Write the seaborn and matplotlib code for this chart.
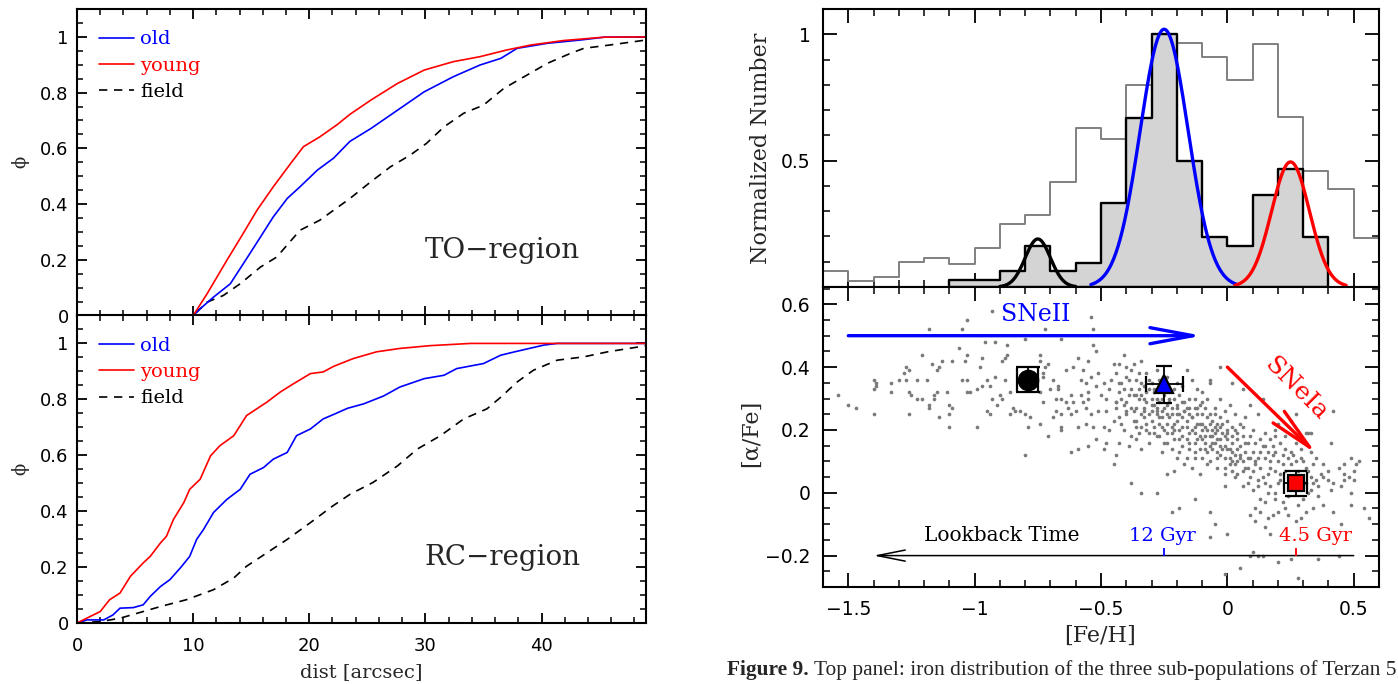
import numpy as np
import pandas as pd
import matplotlib
matplotlib.use("Agg")
import matplotlib.pyplot as plt
from matplotlib.ticker import MultipleLocator, FuncFormatter
from matplotlib.lines import Line2D
import seaborn as sns

# ---------------------------------------------------------------- data
# cumulative radial distributions, TO-region
to_old_x = [0, 10.0, 10.6, 11.75, 13.2, 14.6, 15.8, 16.9, 18.1, 19.2, 20.7, 22.1, 23.5, 25.3,
            27.6, 29.9, 32.4, 34.7, 36.5, 37.9, 40.5, 43.4, 45.4, 49]
to_old_y = [0, 0, 0.024, 0.066, 0.114, 0.204, 0.282, 0.354, 0.42, 0.462, 0.522, 0.565, 0.625, 0.671,
            0.737, 0.803, 0.857, 0.899, 0.923, 0.959, 0.977, 0.989, 0.999, 1.0]
to_young_x = [0, 10.0, 11.2, 12.9, 14.3, 15.5, 16.9, 18.4, 19.5, 20.9, 22.4, 23.5, 25.3, 27.6,
              29.9, 32.4, 34.7, 37.0, 39.1, 41.9, 45.4, 49]
to_young_y = [0, 0, 0.078, 0.198, 0.294, 0.378, 0.462, 0.546, 0.606, 0.641, 0.685, 0.722, 0.773, 0.833,
              0.881, 0.911, 0.929, 0.953, 0.971, 0.987, 0.999, 1.0]
to_field_x = [0, 10.0, 11.2, 12.6, 14.05, 15.8, 17.2, 19.2, 20.9, 23.5, 25.3, 27.0, 28.7, 30.1,
              31.6, 33.3, 35.0, 36.75, 38.5, 40.5, 42.5, 43.65, 45.9, 49.05]
to_field_y = [0, 0, 0.048, 0.072, 0.114, 0.174, 0.21, 0.306, 0.342, 0.42, 0.48, 0.534, 0.576, 0.618,
              0.677, 0.726, 0.755, 0.815, 0.857, 0.905, 0.941, 0.959, 0.971, 0.989]

# cumulative radial distributions, RC-region
rc_old_x = [0, 0.83, 2.3, 3.1, 3.7, 4.85, 5.7, 6.3, 7.2, 8.0, 8.9, 9.7, 10.3, 10.9, 11.75, 12.9,
            14.05, 14.9, 16.06, 16.9, 18.1, 18.9, 20.1, 21.2, 22.1, 23.3, 24.7, 26.4, 27.8, 29.9,
            31.6, 32.7, 35.0, 36.5, 37.9, 40.2, 41.35, 49]
rc_old_y = [0, 0.011, 0.011, 0.029, 0.053, 0.055, 0.065, 0.095, 0.131, 0.155, 0.197, 0.238, 0.299,
            0.335, 0.395, 0.442, 0.478, 0.532, 0.556, 0.586, 0.61, 0.67, 0.694, 0.73, 0.746, 0.768,
            0.784, 0.812, 0.844, 0.874, 0.886, 0.91, 0.928, 0.958, 0.972, 0.994, 1.0, 1.0]
rc_young_x = [0, 2.0, 2.8, 3.7, 4.6, 5.7, 6.3, 7.2, 7.7, 8.3, 9.2, 9.7, 10.6, 11.5, 12.3, 13.5,
              14.6, 16.35, 17.5, 18.65, 20.1, 21.2, 22.1, 23.8, 25.8, 27.8, 30.4, 33.9, 49]
rc_young_y = [0, 0.041, 0.083, 0.107, 0.167, 0.215, 0.238, 0.287, 0.31, 0.37, 0.431, 0.478, 0.514,
              0.598, 0.634, 0.67, 0.742, 0.79, 0.826, 0.856, 0.892, 0.898, 0.918, 0.946, 0.97,
              0.982, 0.992, 1.0, 1.0]
rc_field_x = [0, 2.0, 3.7, 5.2, 7.2, 9.4, 11.75, 13.5, 14.6, 16.35, 18.1, 20.1, 22.0, 23.5, 25.5,
              27.6, 29.3, 31.3, 33.3, 35.3, 36.5, 37.9, 39.3, 41.35, 43.65, 45.7, 49.05]
rc_field_y = [0, 0.005, 0.017, 0.035, 0.059, 0.083, 0.119, 0.161, 0.203, 0.251, 0.299, 0.359, 0.418,
              0.46, 0.503, 0.562, 0.622, 0.67, 0.73, 0.766, 0.808, 0.862, 0.904, 0.94, 0.952,
              0.97, 0.992]

# [Fe/H] histograms (normalised), bins of 0.1 dex
bulge_hist_lo, bulge_hist_hi = -1.6, 0.6
bulge_hist = [0.062, 0.025, 0.038, 0.10, 0.114, 0.09, 0.156, 0.25, 0.285, 0.416, 0.629,
              0.587, 0.80, 1.0, 0.967, 0.912, 0.819, 0.960, 0.672, 0.458, 0.386, 0.193]
ter5_hist_lo, ter5_hist_hi = -1.1, 0.4
ter5_hist = [0.029, 0.029, 0.064, 0.164, 0.064, 0.094, 0.332, 0.669, 1.0, 0.5, 0.198,
             0.163, 0.366, 0.466, 0.198]

# gaussian components: mean, sigma, peak, half-range drawn
gauss_mu = [-0.75, -0.25, 0.25]
gauss_sigma = [0.05, 0.095, 0.075]
gauss_peak = [0.19, 1.02, 0.495]
gauss_span = [0.15, 0.29, 0.22]
gauss_colors = ["black", "blue", "red"]

# field stars [Fe/H] vs [alpha/Fe]
field_feh = [
    -1.54, -1.50, -1.47, -1.40, -1.40, -1.39, -1.39, -1.40, -1.33, -1.33, -1.30, -1.28, -1.27, -1.26,
    -1.27, -1.26, -1.25, -1.26, -1.23, -1.23, -1.21, -1.21, -1.19, -1.18, -1.18, -1.18, -1.17, -1.16,
    -1.16, -1.15, -1.15, -1.14, -1.14, -1.13, -1.11, -1.10, -1.09, -1.10, -1.10, -1.09, -1.06, -1.05,
    -1.05, -1.04, -1.03, -1.03, -1.03, -1.03, -1.02,
    -0.93, -0.72, -0.66, -0.54, -0.53, -0.53, -0.52, -0.96, -0.92, -0.87, -0.80, -0.97, -0.87, -0.89,
    -0.88, -0.98, -0.92, -0.95, -0.97, -0.99, -0.94, -0.93, -0.90, -0.89, -0.91, -0.88, -0.86, -0.85,
    -0.84, -0.86, -0.95, -0.94, -0.99, -0.82, -0.80, -0.78, -0.79, -0.80, -0.74, -0.74, -0.72, -0.71,
    -0.73, -0.73, -0.74, -0.73, -0.74, -0.71, -0.70, -0.69, -0.68, -0.67, -0.67, -0.66, -0.68, -0.66,
    -0.69, -0.66, -0.66, -0.64, -0.64, -0.63, -0.62, -0.62, -0.61, -0.61, -0.60, -0.59, -0.59, -0.58,
    -0.58, -0.57, -0.57, -0.56, -0.56, -0.56, -0.55, -0.55, -0.55, -0.54, -0.54, -0.53, -0.52, -0.51,
    -0.51, -0.50, -0.49, -0.49, -0.48, -0.48, -0.47, -0.47, -0.46, -0.45, -0.45, -0.44, -0.44, -0.45,
    -0.49, -0.52, -0.55, -0.59, -0.62, -0.48,
    -0.41, -0.43, -0.34, -0.38, -0.40, -0.43, -0.42, -0.44, -0.40, -0.38, -0.40, -0.43, -0.41, -0.38,
    -0.39, -0.43, -0.36, -0.37, -0.35, -0.33, -0.32, -0.30, -0.32, -0.34, -0.29, -0.28, -0.28, -0.26,
    -0.25, -0.24, -0.27, -0.24, -0.22, -0.21, -0.20, -0.18, -0.17, -0.16, -0.15, -0.14, -0.13, -0.12,
    -0.11, -0.10, -0.09, -0.08, -0.07, -0.06, -0.05, -0.04, -0.03, -0.01, 0.00, 0.02, 0.02, 0.03,
    0.05, 0.06, 0.07, 0.07, 0.03, 0.05, 0.00, -0.05, -0.08, -0.10, -0.10, -0.13, -0.14, -0.12,
    -0.15, -0.18, -0.20, -0.21, -0.23, -0.25, -0.26, -0.29, -0.30, -0.32, -0.34, -0.18, -0.16, -0.07,
    -0.07, -0.03, -0.03, -0.01, 0.01, 0.03, 0.06, 0.07, 0.06, -0.03, -0.06, -0.04, -0.08, -0.13,
    -0.17, -0.21, -0.24, -0.28, -0.34, -0.38, -0.22, -0.19, -0.13, -0.07, -0.01, -0.05, 0.00, -0.07,
    0.05,
    -0.35, -0.33, -0.31, -0.29, -0.27, -0.25, -0.24, -0.22, -0.21, -0.19, -0.18, -0.16, -0.15, -0.13,
    -0.12, -0.10, -0.09, -0.07, -0.06, -0.04, -0.03, -0.01, 0.02, 0.03, 0.05, 0.06, -0.38, -0.36,
    -0.32, -0.30, -0.28, -0.26, -0.23, -0.20, -0.17, -0.14, -0.11, -0.08, -0.05, -0.02, 0.00, 0.02,
    0.04, -0.40, -0.37, -0.34, -0.31, -0.28, -0.25, -0.22, -0.19, -0.16, -0.13, -0.10, -0.07, -0.04,
    -0.01, -0.42, -0.39, -0.36, -0.33, -0.30, -0.27, -0.24, -0.21, -0.18, -0.15, -0.12, -0.09, -0.06,
    -0.03, 0.00, 0.01, 0.04, -0.44, -0.37, -0.31, -0.27, -0.23, -0.19, -0.15, -0.11, -0.09, -0.05,
    -0.02, 0.01, 0.04, -0.35, -0.31, -0.26, -0.20, -0.14, -0.11, -0.20, -0.24, -0.28, -0.34, -0.41,
    -0.36,
    0.12, 0.42, 0.33, 0.41, 0.52, 0.51, 0.50, 0.48, 0.46, 0.45, 0.42, 0.41, 0.40, 0.38, 0.37, 0.35,
    0.34, 0.33, 0.33, 0.36, 0.49, 0.50, 0.54, 0.56, 0.49, 0.45, 0.44, 0.42, 0.38, 0.34, 0.31, 0.29,
    0.27, 0.24, 0.23, 0.20, 0.18, 0.16, 0.13, 0.11, 0.09, 0.11, 0.15, 0.17, 0.09, 0.12, 0.20, 0.28,
    0.30, 0.32, 0.31, 0.22, 0.19, 0.16, 0.13, 0.10, 0.08, 0.09, 0.12, 0.15, 0.17, 0.20, 0.21, 0.19,
    0.16, 0.13, 0.11, 0.08, 0.09, 0.11, 0.15, 0.17, 0.20, 0.22, 0.24, 0.27, 0.30, 0.31, 0.10, 0.13,
    0.16, 0.19, 0.23, 0.25, 0.29, 0.08, 0.11, 0.15, 0.17, 0.21, 0.27, 0.09, 0.13, 0.19, 0.23, 0.31,
    0.10, 0.15, 0.19, 0.32, 0.33, 0.35, 0.38, 0.40, 0.44, 0.46, 0.49, 0.46, 0.27, 0.25, 0.20,
    -0.01, 0.10, 0.14, 0.25, 0.36, 0.06, 0.09, 0.14, 0.02,
]
field_afe = [
    0.31, 0.28, 0.27, 0.36, 0.33, 0.35, 0.34, 0.25, 0.35, 0.32, 0.36, 0.38, 0.40, 0.39,
    0.36, 0.32, 0.31, 0.25, 0.36, 0.30, 0.44, 0.30, 0.36, 0.52, 0.28, 0.27, 0.41, 0.31,
    0.30, 0.39, 0.32, 0.40, 0.24, 0.42, 0.32, 0.28, 0.27, 0.25, 0.21, 0.42, 0.46, 0.52,
    0.36, 0.42, 0.55, 0.44, 0.36, 0.32, 0.32,
    0.58, 0.52, 0.49, 0.56, 0.52, 0.47, 0.45, 0.48, 0.48, 0.47, 0.49, 0.43, 0.44, 0.42,
    0.43, 0.40, 0.37, 0.36, 0.34, 0.33, 0.34, 0.30, 0.31, 0.30, 0.28, 0.36, 0.32, 0.27,
    0.26, 0.25, 0.26, 0.25, 0.21, 0.26, 0.25, 0.24, 0.21, 0.12, 0.44, 0.42, 0.40, 0.41,
    0.38, 0.37, 0.32, 0.29, 0.22, 0.18, 0.33, 0.36, 0.30, 0.34, 0.33, 0.30, 0.26, 0.25,
    0.24, 0.21, 0.20, 0.39, 0.29, 0.27, 0.31, 0.25, 0.40, 0.29, 0.26, 0.43, 0.21, 0.36,
    0.31, 0.39, 0.29, 0.35, 0.27, 0.22, 0.42, 0.32, 0.30, 0.37, 0.25, 0.21, 0.34, 0.38,
    0.26, 0.31, 0.35, 0.21, 0.30, 0.26, 0.33, 0.20, 0.36, 0.41, 0.23, 0.29, 0.12, 0.09,
    0.14, 0.17, 0.15, 0.14, 0.13, 0.16,
    0.44, 0.41, 0.42, 0.39, 0.37, 0.32, 0.30, 0.29, 0.29, 0.27, 0.25, 0.24, 0.20, 0.18,
    0.15, 0.16, 0.23, 0.31, 0.33, 0.26, 0.29, 0.23, 0.20, 0.14, 0.21, 0.25, 0.27, 0.24,
    0.20, 0.22, 0.18, 0.16, 0.25, 0.20, 0.23, 0.18, 0.26, 0.21, 0.16, 0.24, 0.19, 0.27,
    0.14, 0.22, 0.18, 0.13, 0.25, 0.20, 0.16, 0.11, 0.21, 0.08, 0.14, 0.18, 0.10, 0.05,
    0.12, 0.02, 0.08, 0.16, 0.20, 0.22, 0.23, 0.27, 0.30, 0.32, 0.29, 0.30, 0.36, 0.33,
    0.27, 0.29, 0.27, 0.30, 0.29, 0.27, 0.30, 0.32, 0.35, 0.38, 0.35, 0.34, 0.39, 0.35,
    0.36, 0.40, 0.30, 0.26, 0.28, 0.25, 0.21, 0.24, 0.18, 0.17, 0.18, 0.13, 0.09, 0.11,
    0.09, 0.07, 0.06, 0.00, 0.00, 0.03, -0.06, -0.05, -0.02, -0.06, 0.02, -0.10, -0.13, -0.14,
    -0.24,
    0.30, 0.27, 0.25, 0.33, 0.29, 0.31, 0.25, 0.27, 0.22, 0.25, 0.21, 0.23, 0.19, 0.21,
    0.17, 0.20, 0.16, 0.18, 0.14, 0.17, 0.12, 0.15, 0.13, 0.09, 0.11, 0.07, 0.33, 0.36,
    0.32, 0.28, 0.26, 0.33, 0.30, 0.28, 0.26, 0.24, 0.22, 0.24, 0.21, 0.19, 0.17, 0.16,
    0.14, 0.26, 0.23, 0.21, 0.19, 0.18, 0.16, 0.14, 0.13, 0.11, 0.13, 0.11, 0.10, 0.08,
    0.06, 0.35, 0.31, 0.27, 0.24, 0.30, 0.22, 0.19, 0.17, 0.15, 0.14, 0.25, 0.27, 0.23,
    0.24, 0.20, 0.11, 0.17, 0.38, 0.41, 0.33, 0.36, 0.33, 0.31, 0.30, 0.28, 0.21, 0.19,
    0.14, 0.09, 0.06, 0.19, 0.16, 0.13, 0.11, 0.08, 0.06, 0.35, 0.37, 0.39, 0.31, 0.33,
    0.17,
    0.25, 0.26, 0.19, 0.16, 0.10, 0.09, 0.07, 0.05, 0.04, 0.02, 0.03, 0.01, 0.04, 0.05, 0.06, 0.04,
    0.03, 0.01, 0.05, 0.02, 0.00, 0.04, -0.05, -0.08, -0.04, -0.10, -0.20, -0.06, -0.04, -0.05, -0.06, -0.08,
    -0.09, -0.07, -0.05, -0.06, -0.07, -0.08, -0.06, -0.05, -0.07, -0.09, -0.11, -0.13, -0.20, -0.20, -0.22, -0.27,
    -0.02, 0.00, 0.03, -0.03, -0.02, 0.00, -0.02, 0.01, 0.03, 0.05, 0.04, 0.03, 0.02, 0.03, 0.06, 0.07,
    0.06, 0.08, 0.09, 0.08, 0.11, 0.10, 0.11, 0.10, 0.10, 0.09, 0.11, 0.10, 0.10, 0.08, 0.13, 0.13,
    0.13, 0.13, 0.14, 0.13, 0.14, 0.16, 0.16, 0.15, 0.17, 0.16, 0.16, 0.18, 0.17, 0.18, 0.18, 0.19,
    0.20, 0.19, 0.20, 0.19, 0.13, 0.11, 0.09, 0.07, 0.08, 0.09, 0.11, 0.06, 0.25, 0.23, 0.22,
    -0.26, -0.19, -0.20, -0.21, -0.21, 0.33, 0.28, 0.30, 0.35,
]
# stars in the densest part of the sequence
core_feh = [
    -0.44, -0.42, -0.41, -0.39, -0.37, -0.36, -0.35, -0.34, -0.33, -0.32, -0.31, -0.30, -0.29, -0.28,
    -0.27, -0.26, -0.25, -0.24, -0.23, -0.22, -0.21, -0.20, -0.19, -0.18, -0.17, -0.16, -0.15, -0.14,
    -0.13, -0.12, -0.11, -0.10, -0.09, -0.08, -0.07, -0.06, -0.05, -0.04, -0.03, -0.02, -0.01, 0.00,
    0.01, 0.02, 0.03, 0.04, 0.05, 0.06, 0.07, 0.08,
    -0.43, -0.40, -0.36, -0.33, -0.29, -0.26, -0.22, -0.19, -0.16, -0.13, -0.10, -0.07, -0.04, -0.01,
    0.02, 0.04,
    0.10, 0.12, 0.14, 0.17, 0.18, 0.21, 0.23, 0.25, 0.26, 0.28, 0.29, 0.32, 0.34, 0.14, 0.18, 0.22,
    0.26, 0.12, 0.15, 0.19, 0.24, 0.28, 0.36,
]
core_afe = [
    0.27, 0.22, 0.28, 0.36, 0.26, 0.21, 0.38, 0.25, 0.30, 0.22, 0.36, 0.26, 0.19, 0.30,
    0.24, 0.21, 0.35, 0.28, 0.24, 0.19, 0.33, 0.25, 0.20, 0.24, 0.29, 0.17, 0.25, 0.20,
    0.27, 0.22, 0.18, 0.25, 0.14, 0.20, 0.22, 0.16, 0.25, 0.20, 0.15, 0.22, 0.11, 0.19,
    0.14, 0.21, 0.12, 0.19, 0.15, 0.10, 0.13, 0.11,
    0.35, 0.40, 0.31, 0.34, 0.28, 0.26, 0.21, 0.17, 0.27, 0.16, 0.17, 0.15, 0.22, 0.18,
    0.07, 0.10,
    0.07, 0.11, 0.05, 0.08, 0.12, 0.04, 0.07, 0.09, 0.05, 0.07, 0.11, 0.07, 0.09, 0.15, 0.15, 0.12,
    0.12, 0.02, -0.03, 0.00, -0.01, -0.04, -0.01,
]

# mean values of the three Terzan 5 sub-populations
pop_feh = [-0.79, -0.25, 0.27]
pop_afe = [0.36, 0.345, 0.03]
pop_feh_err = [0.042, 0.073, 0.044]
pop_afe_err = [0.039, 0.06, 0.039]
pop_age_labels = ["12 Gyr", "4.5 Gyr"]

# ---------------------------------------------------------------- style
sns.set_style("ticks")
plt.rcParams["font.family"] = ["DejaVu Sans"]
plt.rcParams["axes.linewidth"] = 1.5
plt.rcParams["axes.edgecolor"] = "black"
SERIF = ["DejaVu Serif"]
MINUS = "\u2212"

fmt = FuncFormatter(lambda v, p: f"{v:g}".replace("-", MINUS))


def style_axis(ax, maj_len, min_len, size, xpad, ypad):
    ax.tick_params(which="both", direction="in", top=True, right=True,
                   colors="black", width=1.3)
    ax.tick_params(which="major", length=maj_len)
    ax.tick_params(which="minor", length=min_len, width=1.1)
    ax.tick_params(axis="x", labelsize=size, pad=xpad)
    ax.tick_params(axis="y", labelsize=size, pad=ypad)
    for s in ax.spines.values():
        s.set_linewidth(1.5)
        s.set_visible(True)


fig = plt.figure(figsize=(13.98, 6.84), dpi=100)

# ---------------------------------------------------------------- left: radial distributions
panels = [
    ("TO" + MINUS + "region", (to_old_x, to_old_y), (to_young_x, to_young_y), (to_field_x, to_field_y),
     [0.0551, 0.5387, 0.407, 0.4481]),
    ("RC" + MINUS + "region", (rc_old_x, rc_old_y), (rc_young_x, rc_young_y), (rc_field_x, rc_field_y),
     [0.0551, 0.0892, 0.407, 0.4496]),
]
for i, (name, old, young, field, rect) in enumerate(panels):
    ax = fig.add_axes(rect)
    sns.lineplot(x=field[0], y=field[1], ax=ax, color="black", lw=1.2,
                 linestyle=(0, (5, 4)), estimator=None, sort=False)
    sns.lineplot(x=old[0], y=old[1], ax=ax, color="blue", lw=1.2, estimator=None, sort=False)
    sns.lineplot(x=young[0], y=young[1], ax=ax, color="red", lw=1.2, estimator=None, sort=False)
    ax.set_xlim(0, 49)
    ax.set_ylim(0, 1.1)
    ax.xaxis.set_major_locator(MultipleLocator(10))
    ax.xaxis.set_minor_locator(MultipleLocator(2))
    ax.yaxis.set_major_locator(MultipleLocator(0.2))
    ax.yaxis.set_minor_locator(MultipleLocator(0.05))
    ax.yaxis.set_major_formatter(fmt)
    ax.xaxis.set_major_formatter(fmt)
    style_axis(ax, 7.2, 4.0, 13, 10, 6)
    ax.set_ylabel("\u03d5", family=SERIF, fontsize=13, va="center")
    ax.yaxis.set_label_coords(-0.1, 0.5)
    if i == 0:
        ax.tick_params(axis="x", labelbottom=False)
        ax.set_xlabel("")
    else:
        ax.set_xlabel("dist [arcsec]", family=SERIF, fontsize=14, va="center")
        ax.xaxis.set_label_coords(0.499, -0.16)
    ax.text(36.6, 0.234, name, ha="center", va="center", family=SERIF, fontsize=20)
    handles = [Line2D([], [], color="blue", lw=1.2),
               Line2D([], [], color="red", lw=1.2),
               Line2D([], [], color="black", lw=1.2, linestyle=(0, (5, 4)))]
    ax.legend(handles, ["old", "young", "field"], loc="upper left",
              bbox_to_anchor=(0.038, 0.93), frameon=False, handlelength=1.8,
              handletextpad=0.35, labelspacing=0.42, borderaxespad=0, borderpad=0,
              prop={"family": SERIF, "size": 14}, labelcolor=["blue", "red", "black"])

# ---------------------------------------------------------------- right top: [Fe/H] histograms
axh = fig.add_axes([0.5887, 0.5804, 0.3977, 0.4064])
bulge_edges = [round(v, 2) for v in np.arange(bulge_hist_lo, bulge_hist_hi + 0.05, 0.1)]
ter5_edges = [round(v, 2) for v in np.arange(ter5_hist_lo, ter5_hist_hi + 0.05, 0.1)]
bulge_df = pd.DataFrame({"feh": [(a + b) / 2 for a, b in zip(bulge_edges[:-1], bulge_edges[1:])],
                         "w": bulge_hist})
ter5_df = pd.DataFrame({"feh": [(a + b) / 2 for a, b in zip(ter5_edges[:-1], ter5_edges[1:])],
                        "w": ter5_hist})

sns.histplot(data=bulge_df, x="feh", weights="w", bins=bulge_edges, element="step",
             fill=False, color="#808080", lw=1.4, ax=axh, zorder=2)
sns.histplot(data=ter5_df, x="feh", weights="w", bins=ter5_edges, element="step",
             fill=True, facecolor="#d4d4d4", edgecolor="black", alpha=1, lw=1.7, ax=axh, zorder=3)

for mu, sig, pk, span, col in zip(gauss_mu, gauss_sigma, gauss_peak, gauss_span, gauss_colors):
    gx = np.linspace(mu - span, mu + span, 200)
    gy = pk * np.exp(-0.5 * ((gx - mu) / sig) ** 2)
    sns.lineplot(x=gx, y=gy, ax=axh, color=col, lw=2.4, estimator=None, sort=False, zorder=4)

axh.set_xlim(-1.6, 0.6)
axh.set_ylim(0, 1.1)
axh.xaxis.set_major_locator(MultipleLocator(0.5))
axh.xaxis.set_minor_locator(MultipleLocator(0.1))
axh.yaxis.set_major_locator(MultipleLocator(0.5))
axh.yaxis.set_minor_locator(MultipleLocator(0.1))
axh.yaxis.set_major_formatter(FuncFormatter(lambda v, p: "" if abs(v) < 1e-9 else f"{v:g}"))
style_axis(axh, 10, 5, 13.5, 9, 9)
axh.tick_params(axis="x", labelbottom=False)
axh.set_xlabel("")
axh.set_ylabel("Normalized Number", family=SERIF, fontsize=16, va="center")
axh.yaxis.set_label_coords(-0.112, 0.5)

# ---------------------------------------------------------------- right bottom: [alpha/Fe] vs [Fe/H]
axs = fig.add_axes([0.5887, 0.1418, 0.3977, 0.4386])
sns.scatterplot(x=field_feh + core_feh, y=field_afe + core_afe, ax=axs, color="#7a7a7a",
                s=7, linewidth=0, zorder=2)

axs.set_xlim(-1.6, 0.6)
axs.set_ylim(-0.3, 0.655)
axs.xaxis.set_major_locator(MultipleLocator(0.5))
axs.xaxis.set_minor_locator(MultipleLocator(0.1))
axs.yaxis.set_major_locator(MultipleLocator(0.2))
axs.yaxis.set_minor_locator(MultipleLocator(0.05))
axs.xaxis.set_major_formatter(fmt)
axs.yaxis.set_major_formatter(fmt)
style_axis(axs, 10, 5, 13.5, 9, 9)
axs.set_xlabel("[Fe/H]", family=SERIF, fontsize=16, va="center")
axs.xaxis.set_label_coords(0.498, -0.163)
axs.set_ylabel("[\u03b1/Fe]", family=SERIF, fontsize=16, va="center")
axs.yaxis.set_label_coords(-0.1295, 0.513)

# sub-population means
marker_styles = [
    dict(marker="o", ms=14, mfc="black", mec="black", capsize=8.5),
    dict(marker="^", ms=13, mfc="blue", mec="black", capsize=6),
    dict(marker="s", ms=12, mfc="red", mec="black", capsize=8),
]
for x, y, xe, ye, st in zip(pop_feh, pop_afe, pop_feh_err, pop_afe_err, marker_styles):
    axs.errorbar(x, y, xerr=xe, yerr=ye, fmt=st["marker"], ms=st["ms"], mfc=st["mfc"],
                 mec=st["mec"], mew=1.6, ecolor="black", elinewidth=1.3, capsize=st["capsize"],
                 capthick=1.3, zorder=5)

# enrichment arrows
axs.annotate("", xy=(-0.1, 0.5), xytext=(-1.5, 0.5),
             arrowprops=dict(arrowstyle="->,head_length=31,head_width=5.8", mutation_scale=1,
                             lw=2.4, color="blue", shrinkA=0, shrinkB=0), zorder=6)
axs.text(-0.757, 0.567, "SNeII", color="blue", family=SERIF, fontsize=17,
         ha="center", va="center", zorder=6)
axs.annotate("", xy=(0.351, 0.125), xytext=(0.0, 0.40),
             arrowprops=dict(arrowstyle="->,head_length=31,head_width=5.8", mutation_scale=1,
                             lw=2.4, color="red", shrinkA=0, shrinkB=0), zorder=6)
axs.text(0.272, 0.328, "SNeIa", color="red", family=SERIF, fontsize=18, rotation=-45,
         ha="center", va="center", rotation_mode="anchor", zorder=6)

# lookback time axis
axs.annotate("", xy=(-1.4, -0.2), xytext=(0.5, -0.2),
             arrowprops=dict(arrowstyle="->,head_length=20,head_width=4", mutation_scale=1,
                             lw=1.1, color="black", shrinkA=0, shrinkB=0), zorder=6)
axs.text(-1.2, -0.137, "Lookback Time", color="black", family=SERIF, fontsize=14.5,
         ha="left", va="center", zorder=6)
axs.vlines([pop_feh[1], pop_feh[2]], -0.2, -0.175, colors=["blue", "red"], lw=1.3, zorder=6)
axs.text(pop_feh[1] - 0.007, -0.137, pop_age_labels[0], color="blue", family=SERIF,
         fontsize=14, ha="center", va="center", zorder=6)
axs.text(0.35, -0.137, pop_age_labels[1], color="red", family=SERIF,
         fontsize=14, ha="center", va="center", zorder=6)

# caption line
cap1 = fig.text(0.52, 0.0205, "Figure 9.", family=["Liberation Serif"], fontsize=15.4,
                fontweight="bold", ha="left", va="center")
axs.annotate(" Top panel: iron distribution of the three sub-populations of Terzan 5",
             xy=(1, 0), xycoords=cap1, ha="left", va="bottom",
             family=["Liberation Serif"], fontsize=15.4, annotation_clip=False)

fig.savefig("out.png", dpi=100)
